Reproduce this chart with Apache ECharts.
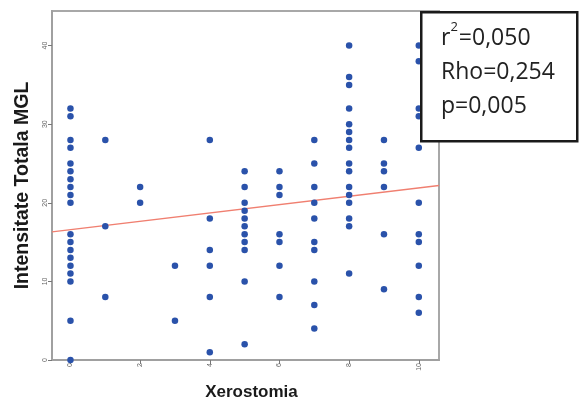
<!DOCTYPE html>
<html>
<head>
<meta charset="utf-8">
<script src="https://cdn.jsdelivr.net/npm/echarts@6/dist/echarts.min.js"></script>
<style>
html,body{margin:0;padding:0;background:#fff;}
#chart{width:580px;height:406px;}
</style>
</head>
<body>
<div id="chart"></div>
<script>
// Xerostomia score (x) groups and the Intensitate Totala MGL values read for each
const xeroLevels = [0, 1, 2, 3, 4, 5, 6, 7, 8, 9, 10];
const mgl0  = [32, 31, 28, 27, 25, 24, 23, 22, 21, 20, 16, 15, 14, 13, 12, 11, 10, 5, 0];
const mgl1  = [28, 17, 8];
const mgl2  = [22, 20];
const mgl3  = [12, 5];
const mgl4  = [28, 18, 14, 12, 8, 1];
const mgl5  = [24, 22, 20, 19, 18, 17, 16, 15, 14, 10, 2];
const mgl6  = [24, 22, 21, 16, 15, 12, 8];
const mgl7  = [28, 25, 22, 20, 18, 15, 14, 10, 7, 4];
const mgl8  = [40, 36, 35, 32, 30, 29, 28, 27, 25, 24, 22, 21, 20, 18, 17, 11];
const mgl9  = [28, 25, 24, 22, 16, 9];
const mgl10 = [40, 38, 32, 31, 27, 20, 16, 15, 12, 8, 6];
const groups = [mgl0, mgl1, mgl2, mgl3, mgl4, mgl5, mgl6, mgl7, mgl8, mgl9, mgl10];

// Fit line endpoints
const fitX = [-0.53, 10.58];
const fitY = [16.3, 22.2];

const xTicks = [0, 2, 4, 6, 8, 10];
const yTicks = [0, 10, 20, 30, 40];
const statLines = ['r{sup|2}=0,050', 'Rho=0,254', 'p=0,005'];

const points = [];
groups.forEach((g, i) => g.forEach(v => points.push([xeroLevels[i], v])));
const fitData = fitX.map((x, i) => [x, fitY[i]]);

const chart = echarts.init(document.getElementById('chart'));
chart.setOption({
  animation: false,
  grid: { left: 52, top: 11, right: 141, bottom: 45, show: true, borderColor: '#a8a8a8', borderWidth: 2, containLabel: false },
  xAxis: {
    type: 'value', min: -0.53, max: 10.58,
    name: 'Xerostomia', nameLocation: 'middle', nameGap: 24,
    nameTextStyle: { fontFamily: 'Liberation Sans', fontWeight: 'bold', fontSize: 17, color: '#1a1a1a', padding: [0, 0, 0, 12] },
    axisLine: { show: true, onZero: false, lineStyle: { color: '#a0a0a0', width: 2 } },
    axisTick: { show: true, customValues: xTicks, length: 4, lineStyle: { color: '#777', width: 1 } },
    axisLabel: { customValues: xTicks, rotate: 90, fontSize: 7, color: '#666', margin: 3, fontFamily: 'Liberation Sans' },
    splitLine: { show: false }
  },
  yAxis: {
    type: 'value', min: 0, max: 44.4,
    name: 'Intensitate Totala MGL', nameLocation: 'middle', nameGap: 19,
    nameTextStyle: { fontFamily: 'Liberation Sans', fontWeight: 'bold', fontSize: 19.5, color: '#1a1a1a' },
    axisLine: { show: true, onZero: false, lineStyle: { color: '#a0a0a0', width: 2 } },
    axisTick: { show: true, customValues: yTicks, length: 4, lineStyle: { color: '#777', width: 1 } },
    axisLabel: { customValues: yTicks, rotate: 90, fontSize: 7, color: '#666', margin: 3, fontFamily: 'Liberation Sans' },
    splitLine: { show: false }
  },
  series: [
    {
      type: 'line', data: fitData, showSymbol: false, symbol: 'none',
      lineStyle: { color: '#f07f70', width: 1.4 }, z: 2, silent: true
    },
    {
      type: 'scatter', data: points, symbolSize: 6.5,
      itemStyle: { color: '#2a52aa', opacity: 1 }, z: 3
    }
  ],
  graphic: [
    {
      type: 'rect', left: 420, top: 11, z: 100,
      shape: { width: 156, height: 129 },
      style: { fill: '#fff', stroke: '#1a1a1a', lineWidth: 2.5 }
    },
    {
      type: 'text', left: 441, top: 21, z: 101,
      style: {
        text: statLines.join('\n'),
        fontFamily: 'Open Sans', fontSize: 23, lineHeight: 34, fill: '#222',
        rich: { sup: { fontSize: 13, verticalAlign: 'top', lineHeight: 34, fill: '#222', fontFamily: 'Open Sans', padding: [0, 1, 3, 0] } }
      }
    }
  ]
});
</script>
</body>
</html>
